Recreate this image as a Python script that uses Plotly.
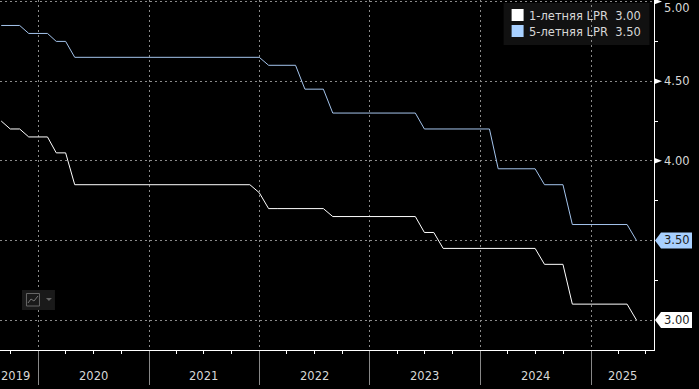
import plotly.graph_objects as go
import pandas as pd

dates = pd.date_range("2019-08-31", "2025-05-31", freq="ME")
lpr_1y = [4.25, 4.20, 4.20, 4.15, 4.15,
          4.15, 4.05, 4.05, 3.85, 3.85, 3.85, 3.85, 3.85, 3.85, 3.85, 3.85, 3.85,
          3.85, 3.85, 3.85, 3.85, 3.85, 3.85, 3.85, 3.85, 3.85, 3.85, 3.85, 3.80,
          3.70, 3.70, 3.70, 3.70, 3.70, 3.70, 3.70, 3.65, 3.65, 3.65, 3.65, 3.65,
          3.65, 3.65, 3.65, 3.65, 3.65, 3.55, 3.55, 3.45, 3.45, 3.45, 3.45, 3.45,
          3.45, 3.45, 3.45, 3.45, 3.45, 3.45, 3.35, 3.35, 3.35, 3.10, 3.10, 3.10,
          3.10, 3.10, 3.10, 3.10, 3.00]
lpr_5y = [4.85, 4.85, 4.85, 4.80, 4.80,
          4.80, 4.75, 4.75, 4.65, 4.65, 4.65, 4.65, 4.65, 4.65, 4.65, 4.65, 4.65,
          4.65, 4.65, 4.65, 4.65, 4.65, 4.65, 4.65, 4.65, 4.65, 4.65, 4.65, 4.65,
          4.60, 4.60, 4.60, 4.60, 4.45, 4.45, 4.45, 4.30, 4.30, 4.30, 4.30, 4.30,
          4.30, 4.30, 4.30, 4.30, 4.30, 4.20, 4.20, 4.20, 4.20, 4.20, 4.20, 4.20,
          4.20, 3.95, 3.95, 3.95, 3.95, 3.95, 3.85, 3.85, 3.85, 3.60, 3.60, 3.60,
          3.60, 3.60, 3.60, 3.60, 3.50]
year_labels = ["2019", "2020", "2021", "2022", "2023", "2024", "2025"]
year_centers = ["2019-10-18", "2020-07-01", "2021-07-01", "2022-07-01", "2023-07-01", "2024-07-01", "2025-04-15"]
y_ticks = [3.0, 3.5, 4.0, 4.5, 5.0]
y_labels = ["4.00", "4.50", "5.00"]
y_label_vals = [4.0, 4.5, 5.0]
names = ["1-летняя LPR", "5-летняя LPR"]
c1, c5 = "#ffffff", "#a8d0ff"
FONT = "DejaVu Sans"

fig = go.Figure()
fig.add_trace(go.Scatter(x=dates, y=lpr_1y, mode="lines", line=dict(color=c1, width=1), showlegend=False))
fig.add_trace(go.Scatter(x=dates, y=lpr_5y, mode="lines", line=dict(color="#a4c4ec", width=1), showlegend=False))

shapes, annos = [], []
# legend
shapes.append(dict(type="rect", xref="paper", yref="paper", x0=504/654.5, x1=650/654.5,
                   y0=1-45/350, y1=1-3/350, fillcolor="#111111", line_width=0, layer="below"))
for i, (n, v, c) in enumerate(zip(names, [lpr_1y[-1], lpr_5y[-1]], [c1, c5])):
    yc = 1 - (15 + i*16)/350
    shapes.append(dict(type="rect", xref="paper", yref="paper", x0=512/654.5, x1=524/654.5,
                       y0=yc-6/350, y1=yc+6/350, fillcolor=c, line_width=0))
    annos.append(dict(xref="paper", yref="paper", x=527/654.5, y=yc, yshift=-1, xanchor="left", yanchor="middle",
                      text=f"{n}\u00a0\u00a0{v:.2f}", showarrow=False, font=dict(family=FONT, size=11.5, color="#d8d8d8")))
# value arrows and labels on the axis
for t, lab in zip(y_label_vals, y_labels):
    shapes.append(dict(type="path", xref="paper", yref="y", xsizemode="pixel", ysizemode="pixel",
                       xanchor=1, yanchor=t, path="M 0 -3 L 8 0 L 0 3 Z", fillcolor="#ffffff", line_width=0))
    annos.append(dict(xref="paper", yref="y", x=1, y=t, xshift=8, yshift=-6 if t == 5.0 else 0, xanchor="left",
                      yanchor="middle", text=lab, showarrow=False,
                      font=dict(family=FONT, size=11.5, color="#d8d8d8")))
# callouts
for v, c in [(lpr_1y[-1], c1), (lpr_5y[-1], c5)]:
    shapes.append(dict(type="path", xref="paper", yref="y", xsizemode="pixel", ysizemode="pixel",
                       xanchor=1, yanchor=v, path="M 1 0 L 7 -8 L 38 -8 L 38 8 L 7 8 Z", fillcolor=c, line_width=0))
    annos.append(dict(xref="paper", yref="y", x=1, y=v, xshift=8, xanchor="left", yanchor="middle", text=f"{v:.2f}",
                      showarrow=False, font=dict(family=FONT, size=11.5, color="#222222")))
# year labels
for lab, d in zip(year_labels, year_centers):
    annos.append(dict(xref="x", yref="paper", x=d, y=0, yshift=-26, yanchor="middle", text=lab,
                      showarrow=False, font=dict(family=FONT, size=11.5, color="#d8d8d8")))
# chart type widget
def px(x): return x/654.5
def py(y): return 1 - y/350
shapes.append(dict(type="rect", xref="paper", yref="paper", x0=px(22), x1=px(55), y0=py(310), y1=py(290),
                   fillcolor="#1a1a1a", line_width=0))
shapes.append(dict(type="rect", xref="paper", yref="paper", x0=px(26.5), x1=px(39.5), y0=py(306), y1=py(293.5),
                   line=dict(color="#666666", width=1)))
shapes.append(dict(type="path", xref="paper", yref="paper",
                   path=f"M {px(28)} {py(303)} L {px(31)} {py(299)} L {px(34)} {py(301)} L {px(38)} {py(296)}",
                   line=dict(color="#777777", width=1)))
shapes.append(dict(type="path", xref="paper", yref="paper",
                   path=f"M {px(46)} {py(298)} L {px(52)} {py(298)} L {px(49)} {py(301)} Z",
                   fillcolor="#666666", line_width=0))

fig.update_layout(
    width=699, height=389, autosize=False,
    paper_bgcolor="#000000", plot_bgcolor="#000000",
    margin=dict(l=0, r=44.5, t=0, b=39),
    showlegend=False, shapes=shapes, annotations=annos,
    font=dict(family=FONT, size=12, color="#d8d8d8"),
    xaxis=dict(type="date", range=["2019-08-27", "2025-07-28"], tick0="2020-01-01", dtick="M12",
               showticklabels=False, ticks="outside", ticklen=34, tickcolor="#888888", tickwidth=1,
               showgrid=True, griddash="2px,3px", gridcolor="#8a8a8a", gridwidth=1, automargin=False,
               showline=True, linecolor="#ffffff", linewidth=1, zeroline=False,
               minor=dict(tick0="2019-10-01", dtick="M3", ticks="outside", ticklen=3, tickcolor="#ffffff",
                          tickwidth=1, showgrid=False)),
    yaxis=dict(side="right", range=[2.812, 5.01], tickvals=y_ticks, showticklabels=False, ticks="",
               showgrid=True, griddash="2px,3px", gridcolor="#8a8a8a", gridwidth=1, automargin=False,
               showline=True, linecolor="#ffffff", linewidth=1, zeroline=False,
               minor=dict(tickvals=[3.25, 3.75, 4.25, 4.75], ticks="outside", ticklen=3, tickcolor="#ffffff",
                          showgrid=False)),
)
fig.write_html("out.html", config=dict(displayModeBar=False),
               post_script="document.body.style.margin='0';document.body.style.overflow='hidden';")
